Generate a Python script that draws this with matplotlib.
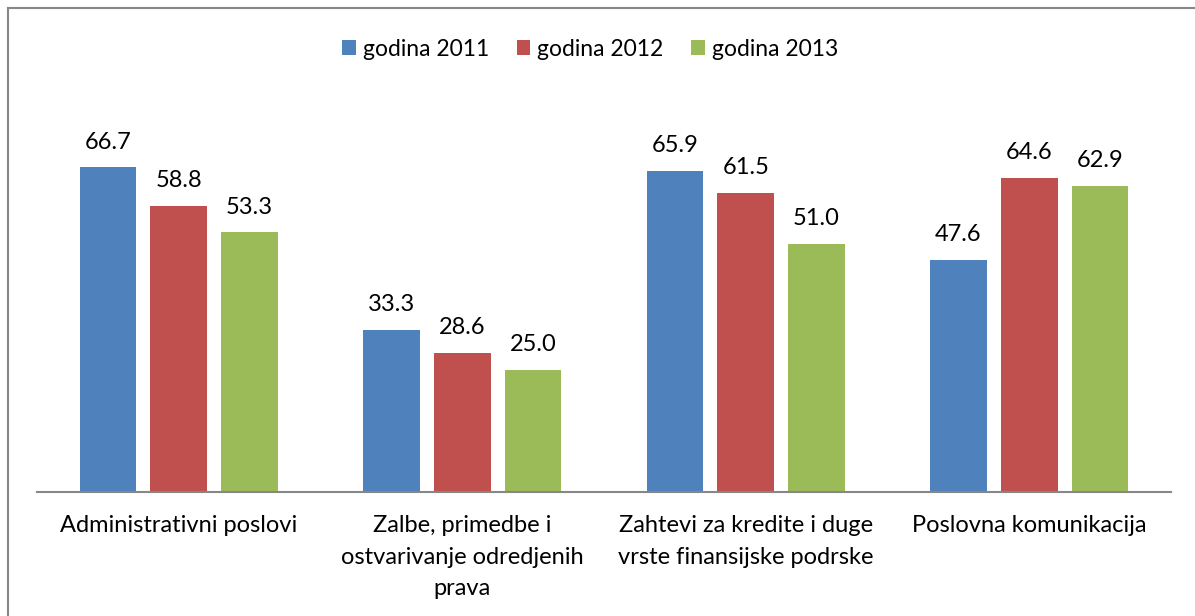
import matplotlib
matplotlib.use("Agg")
import matplotlib.pyplot as plt
import numpy as np
from matplotlib.lines import Line2D

categories = ["Administrativni poslovi",
              "Zalbe, primedbe i\nostvarivanje odredjenih\nprava",
              "Zahtevi za kredite i duge\nvrste finansijske podrske",
              "Poslovna komunikacija"]
series_names = ["godina 2011", "godina 2012", "godina 2013"]
values_2011 = [66.7, 33.3, 65.9, 47.6]
values_2012 = [58.8, 28.6, 61.5, 64.6]
values_2013 = [53.3, 25.0, 51.0, 62.9]
colors = ["#4F81BD", "#C0504D", "#9BBB59"]

plt.rcParams['font.family'] = ['Lato', 'DejaVu Sans']

W, H = 1195, 616
fig = plt.figure(figsize=(W / 100, H / 100), dpi=100)
ax_left, ax_right = 37, 1171
ax_bottom, ax_top = 491.7, 102.6
ax = fig.add_axes([ax_left / W, 1 - ax_bottom / H, (ax_right - ax_left) / W, (ax_bottom - ax_top) / H])

x = np.arange(len(categories))
offsets = [-0.25, 0.0, 0.25]
all_series = [values_2011, values_2012, values_2013]
for vals, off, col, name in zip(all_series, offsets, colors, series_names):
    bars = ax.bar(x + off, vals, width=0.2, color=col, label=name)
    for b, v in zip(bars, vals):
        ax.annotate(f"{v:.1f}", (b.get_x() + b.get_width() / 2, v),
                    xytext=(0, 13.5), textcoords="offset points",
                    ha="center", va="baseline", fontsize=17, color="#000000")

ax.set_xlim(-0.5, 3.5)
ax.set_ylim(0, 80)
ax.set_xticks(x)
ax.set_xticklabels(categories, fontsize=17, linespacing=1.62)
ax.tick_params(axis="x", length=0, pad=17)
ax.set_yticks([])
for s in ["top", "right", "left"]:
    ax.spines[s].set_visible(False)
ax.spines["bottom"].set_color("#878787")
ax.spines["bottom"].set_linewidth(1.5)

leg = fig.legend(loc="center", bbox_to_anchor=(590 / W, 1 - 49 / H), ncol=3,
                 frameon=False, fontsize=16.5, handlelength=0.6, handleheight=0.6,
                 handletextpad=0.3, columnspacing=1.2)

# outer border (top and left edges)
fig.add_artist(Line2D([8 / W, 8 / W], [0, 1 - 8 / H], transform=fig.transFigure,
                      color="#878787", lw=1.5))
fig.add_artist(Line2D([8 / W, 1], [1 - 8 / H, 1 - 8 / H], transform=fig.transFigure,
                      color="#878787", lw=1.5))

fig.savefig("out.png", dpi=100)
